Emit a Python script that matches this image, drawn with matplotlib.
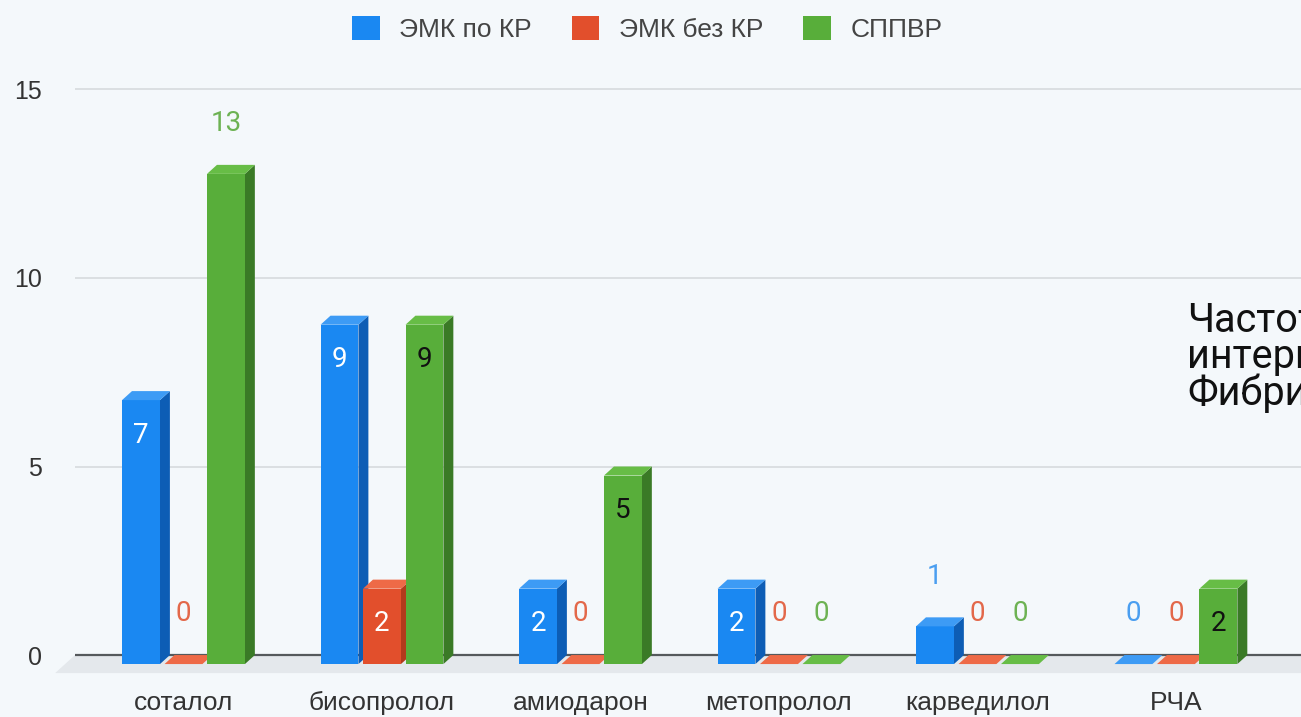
import matplotlib.pyplot as plt
from matplotlib.patches import Polygon, Patch

# Data
categories = ["соталол", "бисопролол", "амиодарон", "метопролол", "карведилол", "РЧА"]
series_names = ["ЭМК по КР", "ЭМК без КР", "СППВР"]
emk_kr = [7, 9, 2, 2, 1, 0]
emk_no_kr = [0, 2, 0, 0, 0, 0]
sppvr = [13, 9, 5, 0, 0, 2]
yticks = [0, 5, 10, 15]
side_note = ["Частота", "интервенций", "Фибрилляции"]

values = [emk_kr, emk_no_kr, sppvr]
front_colors = ["#1a88f2", "#e24f2c", "#58ae3a"]
side_colors = ["#0d5db5", "#b23a1c", "#3a7a26"]
top_colors = ["#3d9bf5", "#ee6a47", "#67bd46"]
label_out_colors = ["#4a9ef0", "#e3684a", "#6db253"]
label_in_colors = ["white", "white", "#111111"]

bg = "#f4f8fb"
W, H = 1301, 717

fig = plt.figure(figsize=(W / 100, H / 100), dpi=100, facecolor=bg)
ax = fig.add_axes([75 / W, 1 - 673.9 / H, 1226 / W, (673.9 - 70.6) / H])
ax.set_facecolor(bg)
ax.set_xlim(-0.5466, 5.63)
ax.set_ylim(-0.5, 15.5)

# 3D look parameters (data units)
w = 0.191
step = 0.214
dx = 0.05
dy = 0.239

for t in yticks[1:]:
    ax.axhline(t, color="#d6dadd", lw=1.2, zorder=1)

# floor band
x0, x1 = ax.get_xlim()
ax.add_patch(Polygon([(x0, 0), (x1 + 1, 0), (x1 + 1 - 2 * dx, -2 * dy), (x0 - 2 * dx, -2 * dy)],
                     closed=True, facecolor="#e4e8ec", edgecolor="none", zorder=1, clip_on=False))
ax.axhline(0, color="#55595c", lw=1.6, zorder=2)

vmax = max(max(v) for v in values)
z = 3
for i in range(len(categories)):
    for s in range(3):
        v = values[s][i]
        xc = i + (s - 1) * step
        xl, xr = xc - w / 2, xc + w / 2
        if v > 0:
            ax.add_patch(Polygon([(xr, -dy), (xr + dx, 0), (xr + dx, v), (xr, v - dy)],
                                 closed=True, facecolor=side_colors[s], edgecolor="none", zorder=z))
            ax.bar(xc, v, width=w, bottom=-dy, color=front_colors[s], zorder=z + 1)
        ax.add_patch(Polygon([(xl, v - dy), (xr, v - dy), (xr + dx, v), (xl + dx, v)],
                             closed=True, facecolor=top_colors[s], edgecolor="none", zorder=z + 1))
        z += 2

        # data labels
        if v < 2 or v == vmax:
            ax.text(xc, v + 1.09, str(v), ha="center", va="center", fontsize=20,
                    family="Roboto", color=label_out_colors[s], zorder=50)
        else:
            ax.text(xc, v - 1.17, str(v), ha="center", va="center", fontsize=20,
                    family="Roboto", color=label_in_colors[s], zorder=50)

ax.set_yticks(yticks)
ax.set_yticklabels([str(t) for t in yticks], fontsize=18, family="Liberation Sans", color="#333333")
ax.tick_params(axis="y", length=0, pad=24)
ax.set_xticks(range(len(categories)))
ax.set_xticklabels(categories, fontsize=19, family="Liberation Sans", color="#333333")
ax.tick_params(axis="x", length=0, pad=12)
for sp in ax.spines.values():
    sp.set_visible(False)

handles = [Patch(facecolor=front_colors[s], edgecolor="none", label=series_names[s]) for s in range(3)]
fig.legend(handles=handles, loc="center", bbox_to_anchor=(0.4975, 0.960), ncol=3, frameon=False,
           prop={"family": "Liberation Sans", "size": 19}, labelcolor="#444444",
           handlelength=1.05, handleheight=1.05, handletextpad=0.75, columnspacing=1.5, borderpad=0)

# overlapping slide text, cut at the right edge as in the source screenshot
fig.text(1187 / W, 1 - 357 / H, "\n".join(side_note), fontsize=28.5, family="Roboto",
         color="#111111", va="center", ha="left", linespacing=0.92)

fig.savefig("out.png", dpi=100, facecolor=bg)
